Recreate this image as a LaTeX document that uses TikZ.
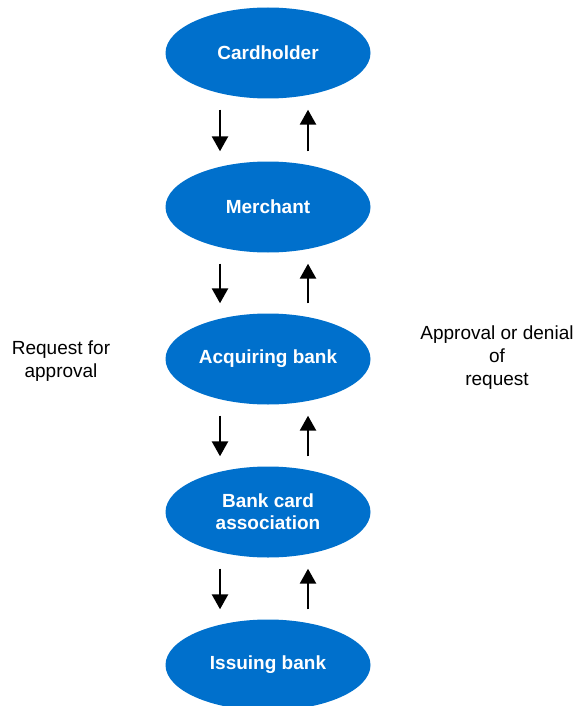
\documentclass[tikz,border=0pt]{standalone}
\usepackage{fontspec}
\setmainfont{Liberation Sans}
\usetikzlibrary{shapes.geometric,arrows.meta}
\definecolor{cardblue}{RGB}{0,112,204}
\begin{document}
\begin{tikzpicture}[x=1pt,y=-1pt,
    party/.style={ellipse, fill=cardblue, draw=none, minimum width=205pt, minimum height=91pt, inner sep=0pt,
      text=white, font=\fontsize{19}{22}\selectfont\bfseries, align=center},
    note/.style={font=\fontsize{19}{23}\selectfont, align=center},
    flow/.style={line width=2.6pt, -{Triangle[width=16pt,length=15pt]}}]
  \useasboundingbox (0,0) rectangle (582,706);
  \node[party] (card) at (268,53) {Cardholder};
  \node[party] (merch) at (268,207) {Merchant};
  \node[party] (acq) at (268,359) {Acquiring bank};
  \node[party] (assoc) at (268,512) {Bank card\\association};
  \node[party] (iss) at (268,665) {Issuing bank};
  \node[note] (req) at (61,361) {Request for\\approval};
  \node[note] (appr) at (497,358) {Approval or denial\\of\\request};
  \coordinate (dn) at (220,0);
  \coordinate (up) at (308,0);
  % down = request, up = answer
  \foreach \a/\b in {card/merch, merch/acq, acq/assoc, assoc/iss} {
    \draw[flow, shorten <=11pt, shorten >=10pt] (\a.south -| dn) -- (\b.north -| dn);
    \draw[flow, shorten <=10pt, shorten >=11pt] (\b.north -| up) -- (\a.south -| up);
  }
\end{tikzpicture}
\end{document}
